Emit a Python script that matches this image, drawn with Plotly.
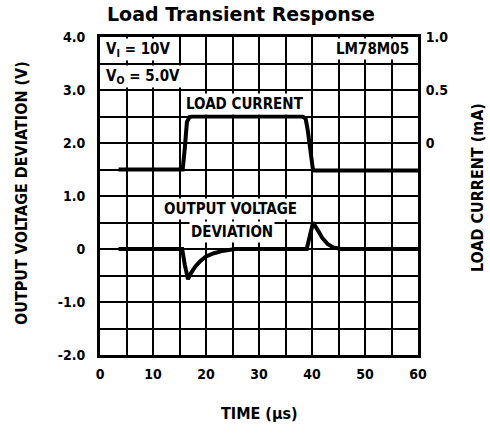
import plotly.graph_objects as go

# Load current trace (time in µs, current in mA on right axis)
time_load = [3.5, 15.6, 16.0, 16.4, 16.9, 17.4, 38.2, 38.8, 39.2, 39.6, 40.2, 60.0]
load_current = [-0.25, -0.25, -0.05, 0.20, 0.245, 0.25, 0.25, 0.23, 0.12, -0.05, -0.26, -0.26]

# Output voltage deviation trace (V on left axis)
time_vout = [3.5, 15.5, 16.0, 16.6, 17.2, 18.0, 19.0, 20.0, 21.5, 23.0, 25.5, 39.0, 39.6, 40.2,
             41.0, 42.0, 43.0, 44.0, 45.5, 60.0]
vout_dev = [0.0, 0.0, -0.3, -0.57, -0.45, -0.33, -0.22, -0.14, -0.08, -0.04, 0.0, 0.0, 0.25, 0.5,
            0.37, 0.2, 0.09, 0.03, 0.0, 0.0]

x_ticks = [0, 10, 20, 30, 40, 50, 60]
y_ticks = [-2, -1, 0, 1, 2, 3, 4]
y_ticktext = ["-2.0", "-1.0", "0", "1.0", "2.0", "3.0", "4.0"]
y2_ticks = [0, 0.5, 1.0]
y2_ticktext = ["0", "0.5", "1.0"]

COND = "Liberation Sans Narrow, DejaVu Sans Condensed, Arial Narrow, sans-serif"
CLEAR = "rgba(0,0,0,0)"

fig = go.Figure()
fig.add_trace(go.Scatter(x=time_vout, y=vout_dev, mode="lines",
                         line=dict(color="black", width=4), yaxis="y", showlegend=False))
fig.add_trace(go.Scatter(x=time_load, y=load_current, mode="lines",
                         line=dict(color="black", width=4), yaxis="y2", showlegend=False))

grid = dict(showgrid=True, gridcolor="black", gridwidth=1.5)
tfont = dict(family=COND, size=14, color="black", weight="bold")

fig.update_layout(
    width=490, height=433,
    margin=dict(l=100, r=72, t=37, b=78, autoexpand=False),
    plot_bgcolor="white", paper_bgcolor="white",
    xaxis=dict(range=[0, 60], tickvals=x_ticks, ticktext=[str(v) for v in x_ticks],
               showline=True, linecolor="black", linewidth=2.8, mirror=True,
               zeroline=False, ticks="outside", ticklen=4, tickcolor=CLEAR,
               automargin=False,
               minor=dict(dtick=5, tick0=0, showgrid=True, gridcolor="black", gridwidth=1.5),
               tickfont=tfont, **grid),
    yaxis=dict(range=[-2, 4], tickvals=y_ticks, ticktext=y_ticktext,
               showline=True, linecolor="black", linewidth=2.8, mirror=True,
               zeroline=False, ticks="outside", ticklen=9, tickcolor=CLEAR,
               automargin=False,
               minor=dict(dtick=0.5, tick0=0, showgrid=True, gridcolor="black", gridwidth=1.5),
               tickfont=tfont, **grid),
    yaxis2=dict(range=[-2, 1], overlaying="y", side="right", tickvals=y2_ticks,
                ticktext=y2_ticktext, showgrid=False, zeroline=False, showline=False,
                ticks="outside", ticklen=4, tickcolor=CLEAR, automargin=False,
                tickfont=tfont),
)

# Title and axis titles
fig.add_annotation(xref="paper", yref="paper", x=(241 - 100) / 318, y=(355 - 14) / 318,
                   text="Load Transient Response", showarrow=False,
                   xanchor="center", yanchor="middle",
                   font=dict(family="DejaVu Sans, sans-serif", size=19, color="black",
                             weight="bold"))
fig.add_annotation(xref="paper", yref="paper", x=(259 - 100) / 318, y=(355 - 413) / 318,
                   text="TIME (µs)", showarrow=False, xanchor="center", yanchor="middle",
                   font=dict(family=COND, size=16, color="black", weight="bold"))
fig.add_annotation(xref="paper", yref="paper", x=(21 - 100) / 318, y=(355 - 193) / 318,
                   text="OUTPUT VOLTAGE DEVIATION (V)", showarrow=False, textangle=-90,
                   xanchor="center", yanchor="middle",
                   font=dict(family=COND, size=16, color="black", weight="bold"))
fig.add_annotation(xref="paper", yref="paper", x=(477 - 100) / 318, y=(355 - 188) / 318,
                   text="LOAD CURRENT (mA)", showarrow=False, textangle=-90,
                   xanchor="center", yanchor="middle",
                   font=dict(family=COND, size=16, color="black", weight="bold"))

ann_font = dict(family=COND, size=15, color="black", weight="bold")
annotations = [
    dict(x=0.8, y=3.77, text="V<sub>I</sub> = 10V", xanchor="left", yanchor="middle"),
    dict(x=0.8, y=3.26, text="V<sub>O</sub> = 5.0V", xanchor="left", yanchor="middle"),
    dict(x=58.6, y=3.77, text="LM78M05", xanchor="right", yanchor="middle"),
    dict(x=27.4, y=2.74, text="LOAD CURRENT", xanchor="center", yanchor="middle"),
    dict(x=24.7, y=0.75, text="OUTPUT VOLTAGE", xanchor="center", yanchor="middle"),
    dict(x=24.9, y=0.33, text="DEVIATION", xanchor="center", yanchor="middle"),
]
for a in annotations:
    fig.add_annotation(xref="x", yref="y", showarrow=False, bgcolor="white",
                       borderpad=1, font=ann_font, **a)

# Remove the browser's default page margin so the figure sits at the window's corner
fig.write_html("out.html", config={"displayModeBar": False},
               post_script="document.body.style.margin='0px';")
